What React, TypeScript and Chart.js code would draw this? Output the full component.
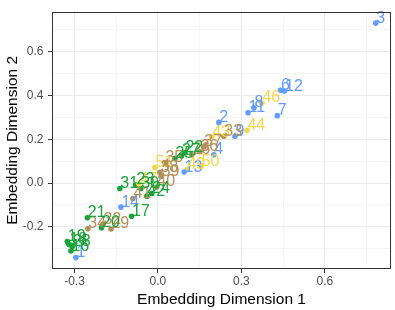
import React, { useEffect, useRef } from "react";
import { Chart, registerables } from "chart.js";

Chart.register(...registerables);

// ---- data (Embedding Dimension 1 / 2) ----
const blueLabels = ["3", "6", "12", "8", "11", "7", "2", "9", "4", "13", "14", "1"];
const blueX = [0.783, 0.441, 0.455, 0.345, 0.324, 0.429, 0.219, 0.277, 0.201, 0.094, -0.133, -0.295];
const blueY = [0.731, 0.424, 0.42, 0.344, 0.321, 0.308, 0.277, 0.214, 0.129, 0.05, -0.11, -0.341];

const yellowLabels = ["46", "44", "43", "47", "51", "50", "49"];
const yellowX = [0.374, 0.32, 0.194, -0.068, -0.011, 0.155, 0.104];
const yellowY = [0.366, 0.241, 0.21, -0.005, 0.071, 0.076, 0.062];

const brownLabels = ["37", "36", "33", "40", "38", "39", "35", "26", "34", "32", "29", "41"];
const brownX = [0.165, 0.151, 0.237, -0.004, 0.007, 0.011, 0.025, 0.122, -0.252, -0.198, -0.169, -0.09];
const brownY = [0.165, 0.143, 0.214, -0.018, 0.049, 0.031, 0.094, 0.129, -0.209, -0.188, -0.21, -0.071];

const greenLabels = ["19", "18", "16", "28", "21", "20", "31", "24", "23", "17", "30", "22", "27", "25", "42"];
const greenX = [-0.326, -0.32, -0.313, -0.308, -0.254, -0.203, -0.137, -0.023, -0.079, -0.095, -0.062, 0.097, 0.085, 0.061, -0.04];
const greenY = [-0.267, -0.281, -0.311, -0.29, -0.159, -0.204, -0.025, -0.048, -0.009, -0.152, -0.025, 0.138, 0.124, 0.112, -0.06];

const xMajorTicks = [-0.3, 0, 0.3, 0.6];
const xMinorTicks = [-0.15, 0.15, 0.45, 0.75];
const yMajorTicks = [-0.2, 0, 0.2, 0.4, 0.6];
const yMinorTicks = [-0.3, -0.1, 0.1, 0.3, 0.5, 0.7];

const xTitle = "Embedding Dimension 1";
const yTitle = "Embedding Dimension 2";

const COLORS = {
  blue: "#619CFF",
  yellow: "#F4D646",
  brown: "#B3905A",
  green: "#1AA33A",
};

const FONT = "'Liberation Sans', Arial, sans-serif";

function toPoints(xs: number[], ys: number[]) {
  return xs.map((x, i) => ({ x, y: ys[i] }));
}

const isIn = (arr: number[], v: number) => arr.some((a) => Math.abs(a - v) < 1e-6);

const labelPlugin = {
  id: "pointLabels",
  afterDatasetsDraw(chart: any) {
    const ctx = chart.ctx;
    ctx.save();
    ctx.font = `16px ${FONT}`;
    ctx.textAlign = "left";
    ctx.textBaseline = "alphabetic";
    chart.data.datasets.forEach((ds: any, i: number) => {
      const meta = chart.getDatasetMeta(i);
      ctx.fillStyle = ds.backgroundColor;
      meta.data.forEach((el: any, j: number) => {
        ctx.fillText(ds.pointLabels[j], el.x + 0.5, el.y - 0.5);
      });
    });
    ctx.restore();
  },
};

const borderPlugin = {
  id: "panelBorder",
  afterDraw(chart: any) {
    const { ctx, chartArea } = chart;
    ctx.save();
    ctx.strokeStyle = "#333333";
    ctx.lineWidth = 1;
    ctx.strokeRect(
      Math.round(chartArea.left) + 0.5,
      Math.round(chartArea.top) + 0.5,
      Math.round(chartArea.right - chartArea.left) - 1,
      Math.round(chartArea.bottom - chartArea.top) - 1
    );
    ctx.restore();
  },
};

export default function App() {
  const ref = useRef<HTMLCanvasElement | null>(null);

  useEffect(() => {
    if (!ref.current) return;
    const mk = (labels: string[], xs: number[], ys: number[], color: string) => ({
      data: toPoints(xs, ys),
      pointLabels: labels,
      backgroundColor: color,
      borderColor: color,
      pointRadius: 2.8,
      pointBorderWidth: 0,
      pointHoverRadius: 2.8,
    });
    const xTicksAll = [...xMajorTicks, ...xMinorTicks].sort((a, b) => a - b);
    const yTicksAll = [...yMajorTicks, ...yMinorTicks].sort((a, b) => a - b);

    const chart = new Chart(ref.current, {
      type: "scatter",
      data: {
        datasets: [
          mk(blueLabels, blueX, blueY, COLORS.blue),
          mk(yellowLabels, yellowX, yellowY, COLORS.yellow),
          mk(brownLabels, brownX, brownY, COLORS.brown),
          mk(greenLabels, greenX, greenY, COLORS.green),
        ] as any,
      },
      options: {
        animation: false,
        responsive: false,
        devicePixelRatio: 1,
        layout: { padding: { left: 0, right: 4, top: 5, bottom: 0 } },
        plugins: { legend: { display: false }, tooltip: { enabled: false } },
        scales: {
          x: {
            type: "linear",
            min: -0.381,
            max: 0.838,
            afterBuildTicks: (s: any) => {
              s.ticks = xTicksAll.map((v) => ({ value: v }));
            },
            afterFit: (s: any) => {
              s.height = 41;
            },
            border: { display: false },
            grid: {
              color: "#EBEBEB",
              lineWidth: (c: any) => (isIn(xMajorTicks, c.tick?.value) ? 1 : 0.5),
              drawTicks: true,
              tickLength: 4,
              tickColor: (c: any) => (isIn(xMajorTicks, c.tick?.value) ? "#333333" : "rgba(0,0,0,0)"),
              tickWidth: 1,
            },
            ticks: {
              autoSkip: false,
              maxRotation: 0,
              padding: 1.5,
              color: "#4D4D4D",
              font: { family: FONT, size: 12 },
              callback: (v: any) => (isIn(xMajorTicks, Number(v)) ? Number(v).toFixed(1) : ""),
            },
            title: {
              display: true,
              text: xTitle,
              color: "#000000",
              font: { family: FONT, size: 15.5 },
              padding: { top: 0, bottom: 1 },
            },
          },
          y: {
            type: "linear",
            min: -0.393,
            max: 0.783,
            afterBuildTicks: (s: any) => {
              s.ticks = yTicksAll.map((v) => ({ value: v }));
            },
            afterFit: (s: any) => {
              s.width = 52;
            },
            border: { display: false },
            grid: {
              color: "#EBEBEB",
              lineWidth: (c: any) => (isIn(yMajorTicks, c.tick?.value) ? 1 : 0.5),
              drawTicks: true,
              tickLength: 4,
              tickColor: (c: any) => (isIn(yMajorTicks, c.tick?.value) ? "#333333" : "rgba(0,0,0,0)"),
              tickWidth: 1,
            },
            ticks: {
              autoSkip: false,
              padding: 4.5,
              color: "#4D4D4D",
              font: { family: FONT, size: 12 },
              callback: (v: any) => (isIn(yMajorTicks, Number(v)) ? Number(v).toFixed(1) : ""),
            },
            title: {
              display: true,
              text: yTitle,
              color: "#000000",
              font: { family: FONT, size: 15.5 },
              padding: { top: 3.7, bottom: 0 },
            },
          },
        },
      } as any,
      plugins: [labelPlugin, borderPlugin],
    });
    return () => chart.destroy();
  }, []);

  return (
    <div style={{ position: "fixed", left: 0, top: 0, width: 395, height: 310, background: "#fff" }}>
      <canvas ref={ref} width={395} height={310} style={{ display: "block", width: 395, height: 310 }} />
    </div>
  );
}
